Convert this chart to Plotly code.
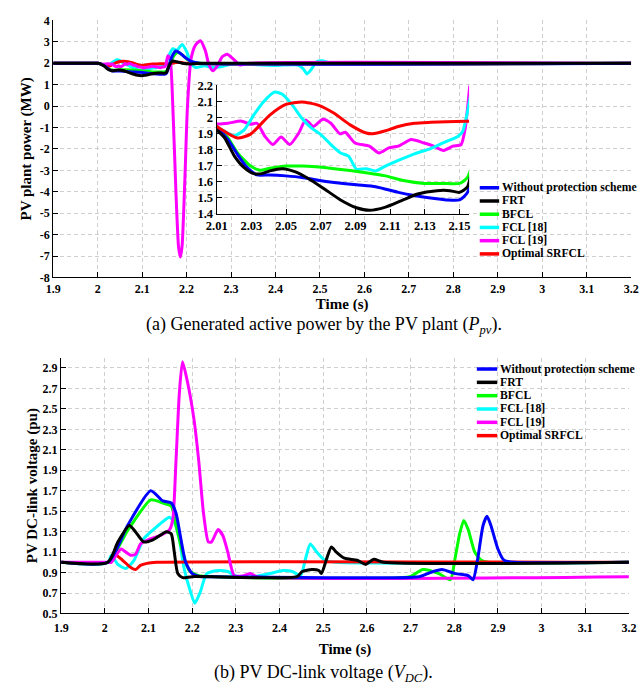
import plotly.graph_objects as go

# ---------------------------------------------------------------------------
# Series definitions
# ---------------------------------------------------------------------------
names = ["Without protection scheme", "FRT", "BFCL", "FCL [18]", "FCL [19]", "Optimal SRFCL"]
colors = ["#0000ff", "#000000", "#00ff00", "#00ffff", "#ff00ff", "#ff0000"]

# --- PV plant active power (MW) -------------------------------------------
t_p_wo = [1.9, 2.0, 2.004, 2.01, 2.0165, 2.022, 2.0276, 2.0332, 2.0406, 2.0499, 2.0591, 2.0684,
          2.0777, 2.0906, 2.1017, 2.1147, 2.124, 2.1333, 2.1425, 2.15, 2.1546, 2.16, 2.168,
          2.176, 2.185, 2.198, 2.212, 2.23, 3.2]
p_wo = [2.0, 2.0, 1.99, 1.937, 1.862, 1.769, 1.687, 1.642, 1.642, 1.636, 1.626, 1.609,
        1.595, 1.580, 1.568, 1.533, 1.513, 1.498, 1.486, 1.486, 1.533, 1.85, 2.35,
        2.57, 2.48, 2.25, 2.07, 2.0, 2.0]

t_p_frt = [1.9, 2.0, 2.004, 2.01, 2.0146, 2.0202, 2.0258, 2.0313, 2.036, 2.0406, 2.048, 2.0554,
           2.0628, 2.0721, 2.0814, 2.0906, 2.098, 2.1073, 2.1166, 2.1258, 2.137, 2.1444, 2.15,
           2.1546, 2.16, 2.168, 2.178, 2.19, 2.21, 2.24, 3.2]
p_frt = [2.0, 2.0, 1.99, 1.923, 1.872, 1.759, 1.687, 1.650, 1.650, 1.667, 1.681, 1.661,
         1.620, 1.554, 1.486, 1.437, 1.421, 1.441, 1.482, 1.523, 1.544, 1.544, 1.533,
         1.568, 1.85, 2.1, 2.07, 2.0, 1.97, 2.0, 2.0]

t_p_bfcl = [1.9, 2.0, 2.004, 2.01, 2.0165, 2.022, 2.0295, 2.035, 2.0406, 2.0499, 2.0591, 2.0777,
            2.0962, 2.1073, 2.1184, 2.1296, 2.1407, 2.15, 2.1546, 2.162, 2.17, 2.179, 2.19,
            2.2, 2.215, 2.23, 3.2]
p_bfcl = [2.0, 2.0, 1.99, 1.944, 1.872, 1.779, 1.697, 1.671, 1.683, 1.697, 1.697, 1.681,
          1.656, 1.636, 1.605, 1.589, 1.589, 1.589, 1.626, 1.9, 2.3, 2.5, 2.4,
          2.2, 2.05, 2.0, 2.0]

t_p_fcl18 = [1.9, 2.0, 2.004, 2.01, 2.0146, 2.0202, 2.0258, 2.0313, 2.0369, 2.0434, 2.048, 2.0536,
             2.0591, 2.0647, 2.0702, 2.0758, 2.0814, 2.086, 2.0906, 2.0962, 2.1017, 2.1073,
             2.1147, 2.124, 2.1333, 2.1425, 2.149, 2.1518, 2.1546, 2.16, 2.169, 2.178, 2.19,
             2.2, 2.21, 2.22, 2.24, 2.26, 2.28, 2.3, 2.32, 2.36, 2.4, 2.45, 2.462, 2.471,
             2.48, 2.493, 2.505, 2.52, 2.55, 3.2]
p_fcl18 = [2.0, 2.0, 1.99, 1.944, 1.913, 1.886, 1.923, 2.015, 2.097, 2.159, 2.143, 2.077,
           1.995, 1.933, 1.892, 1.831, 1.779, 1.759, 1.677, 1.681, 1.667, 1.697,
           1.732, 1.773, 1.806, 1.851, 1.882, 1.913, 2.036, 2.35, 2.68, 2.6, 2.88,
           2.55, 2.0, 1.8, 1.88, 1.8, 1.85, 1.95, 2.0, 1.93, 1.9, 1.92, 1.75, 1.5,
           1.7, 2.08, 2.12, 2.03, 2.0, 2.0]

t_p_fcl19 = [1.9, 2.0, 2.004, 2.01, 2.0165, 2.0239, 2.0295, 2.0332, 2.0378, 2.0424, 2.0471, 2.0521,
             2.0573, 2.0613, 2.0656, 2.0712, 2.0758, 2.081, 2.0841, 2.0897, 2.098, 2.1036,
             2.1092, 2.1147, 2.1221, 2.1296, 2.1351, 2.1407, 2.1462, 2.1509, 2.1533, 2.1546,
             2.158, 2.163, 2.169, 2.176, 2.182, 2.186, 2.19, 2.196, 2.202, 2.21, 2.22, 2.231,
             2.242, 2.25, 2.259, 2.27, 2.28, 2.291, 2.305, 2.32, 2.34, 3.2]
p_fcl19 = [2.0, 2.0, 1.99, 1.96, 1.964, 1.978, 1.958, 1.964, 1.882, 1.831, 1.878, 1.831,
           1.903, 1.985, 1.944, 1.989, 1.964, 1.898, 1.908, 1.841, 1.821, 1.779,
           1.810, 1.821, 1.862, 1.841, 1.821, 1.794, 1.821, 1.831, 1.933, 2.056,
           2.35, 2.2, 0.0, -4.0, -6.6, -7.05, -6.5, -3.5, 0.0, 2.2, 2.85, 3.05,
           2.6, 1.95, 1.65, 1.9, 2.3, 2.42, 2.2, 1.92, 2.0, 2.0]

t_p_srfcl = [1.9, 2.0, 2.004, 2.01, 2.022, 2.0295, 2.0406, 2.0499, 2.0591, 2.0684, 2.0777, 2.0869,
             2.0962, 2.0999, 2.1073, 2.1147, 2.124, 2.1333, 2.1425, 2.1537, 2.165, 2.175,
             2.185, 2.2, 3.2]
p_srfcl = [2.0, 2.0, 1.99, 1.944, 1.872, 1.896, 2.015, 2.081, 2.097, 2.077, 2.026, 1.954,
           1.903, 1.898, 1.917, 1.944, 1.964, 1.970, 1.974, 1.976, 1.98, 2.03,
           2.05, 2.0, 2.0]

# --- PV DC-link voltage (pu) ------------------------------------------------
t_v_wo = [1.9, 2.007, 2.052, 2.105, 2.133, 2.152, 2.163, 2.174, 2.185, 2.2, 2.222, 2.25, 2.72,
          2.745, 2.772, 2.802, 2.832, 2.843, 2.854, 2.866, 2.875, 2.884, 2.9, 2.914, 2.937, 3.2]
v_wo = [1.0, 1.0, 1.36, 1.70, 1.60, 1.58, 1.48, 1.23, 1.0, 0.89, 0.86, 0.86, 0.86,
        0.9, 0.93, 0.89, 0.87, 0.83, 1.04, 1.36, 1.45, 1.36, 1.13, 1.02, 1.0, 1.0]

t_v_frt = [1.9, 2.007, 2.03, 2.056, 2.07, 2.089, 2.11, 2.141, 2.152, 2.159, 2.167, 2.178, 2.2,
           2.44, 2.452, 2.474, 2.49, 2.496, 2.5075, 2.5187, 2.53, 2.5485, 2.578, 2.597,
           2.616, 2.638, 3.2]
v_frt = [1.0, 1.0, 1.2, 1.36, 1.3, 1.20, 1.22, 1.30, 1.28, 1.1, 0.89, 0.85, 0.86,
         0.86, 0.91, 0.93, 0.92, 0.89, 1.03, 1.15, 1.1, 1.04, 1.02, 0.98,
         1.03, 1.0, 1.0]

t_v_bfcl = [1.9, 2.007, 2.052, 2.105, 2.133, 2.152, 2.163, 2.178, 2.193, 2.215, 2.25, 2.698,
            2.728, 2.765, 2.791, 2.802, 2.813, 2.822, 2.832, 2.847, 2.862, 2.877, 3.2]
v_bfcl = [1.0, 1.0, 1.31, 1.61, 1.58, 1.55, 1.36, 1.1, 0.92, 0.87, 0.86, 0.86,
          0.93, 0.89, 0.83, 1.04, 1.29, 1.41, 1.32, 1.1, 1.02, 1.0, 1.0]

t_v_fcl18 = [1.9, 2.007, 2.0148, 2.0296, 2.0481, 2.0667, 2.0889, 2.1111, 2.1333, 2.1481, 2.1593,
             2.1704, 2.1815, 2.1963, 2.2059, 2.2185, 2.2333, 2.2593, 2.2815, 2.3037, 2.3407,
             2.3778, 2.4074, 2.4296, 2.4481, 2.4593, 2.4704, 2.4852, 2.5037, 2.53, 3.2]
v_fcl18 = [1.0, 1.0, 1.07, 0.98, 0.94, 1.02, 1.23, 1.32, 1.40, 1.44, 1.39,
           1.23, 0.94, 0.71, 0.60, 0.71, 0.89, 0.92, 0.91, 0.86, 0.86,
           0.89, 0.92, 0.91, 0.87, 1.03, 1.18, 1.10, 1.02, 1.0, 1.0]

t_v_fcl19 = [1.9, 2.007, 2.0148, 2.0259, 2.037, 2.0481, 2.0593, 2.0704, 2.0815, 2.1037, 2.1259,
             2.1481, 2.1556, 2.163, 2.1704, 2.1778, 2.1889, 2.2037, 2.2148, 2.2259, 2.237,
             2.2444, 2.2593, 2.2704, 2.2815, 2.2963, 2.3185, 2.3333, 2.3481, 3.2]
v_fcl19 = [1.0, 1.0, 1.0, 1.07, 1.13, 1.10, 1.07, 1.08, 1.18, 1.23, 1.26,
           1.32, 1.42, 2.0, 2.64, 2.96, 2.77, 2.41, 2.0, 1.48, 1.2,
           1.2, 1.32, 1.26, 1.1, 0.87, 0.87, 0.89, 0.86, 0.86]

t_v_srfcl = [1.9, 2.007, 2.0222, 2.0407, 2.0593, 2.0704, 2.0815, 2.0963, 2.1185, 3.2]
v_srfcl = [1.0, 1.0, 1.08, 1.02, 0.95, 0.93, 0.97, 0.99, 1.0, 1.0]

# --- Tick labels ------------------------------------------------------------
time_ticks = [1.9, 2.0, 2.1, 2.2, 2.3, 2.4, 2.5, 2.6, 2.7, 2.8, 2.9, 3.0, 3.1, 3.2]
time_labels = ["1.9", "2", "2.1", "2.2", "2.3", "2.4", "2.5", "2.6", "2.7", "2.8", "2.9", "3", "3.1", "3.2"]
power_ticks = [4, 3, 2, 1, 0, -1, -2, -3, -4, -5, -6, -7, -8]
power_labels = ["4", "3", "2", "1", "0", "-1", "-2", "-3", "-4", "-5", "-6", "-7", "-8"]
volt_ticks = [0.5, 0.7, 0.9, 1.1, 1.3, 1.5, 1.7, 1.9, 2.1, 2.3, 2.5, 2.7, 2.9]
volt_labels = ["0.5", "0.7", "0.9", "1.1", "1.3", "1.5", "1.7", "1.9", "2.1", "2.3", "2.5", "2.7", "2.9"]
zoom_t_ticks = [2.01, 2.03, 2.05, 2.07, 2.09, 2.11, 2.13, 2.15]
zoom_t_labels = ["2.01", "2.03", "2.05", "2.07", "2.09", "2.11", "2.13", "2.15"]
zoom_p_ticks = [1.4, 1.5, 1.6, 1.7, 1.8, 1.9, 2.0, 2.1, 2.2]
zoom_p_labels = ["1.4", "1.5", "1.6", "1.7", "1.8", "1.9", "2", "2.1", "2.2"]

power_series = [(t_p_wo, p_wo), (t_p_frt, p_frt), (t_p_bfcl, p_bfcl),
                (t_p_fcl18, p_fcl18), (t_p_fcl19, p_fcl19), (t_p_srfcl, p_srfcl)]
volt_series = [(t_v_wo, v_wo), (t_v_frt, v_frt), (t_v_bfcl, v_bfcl),
               (t_v_fcl18, v_fcl18), (t_v_fcl19, v_fcl19), (t_v_srfcl, v_srfcl)]

# ---------------------------------------------------------------------------
# Figure
# ---------------------------------------------------------------------------
W, H = 644, 692
FONT = "Liberation Serif, Times New Roman, serif"


def px_x(p):
    return p / W


def px_y(p):
    return 1 - p / H


fig = go.Figure()

# drawing order (bottom -> top) for the full-range panels
main_order = [3, 2, 5, 4, 0, 1]
# drawing order for the zoomed panel
zoom_order = [4, 3, 2, 0, 1, 5]

for i in main_order:
    t, v = power_series[i]
    fig.add_trace(go.Scatter(x=t, y=v, mode="lines", name=names[i], showlegend=False,
                             line=dict(color=colors[i], width=3, shape="spline", smoothing=0.6),
                             xaxis="x", yaxis="y"))
for i in main_order:
    t, v = volt_series[i]
    fig.add_trace(go.Scatter(x=t, y=v, mode="lines", name=names[i], showlegend=False,
                             line=dict(color=colors[i], width=3, shape="spline", smoothing=0.6),
                             xaxis="x2", yaxis="y2"))
for i in zoom_order:
    t, v = power_series[i]
    fig.add_trace(go.Scatter(x=t, y=v, mode="lines", name=names[i], showlegend=False,
                             line=dict(color=colors[i], width=3, shape="spline", smoothing=0.6),
                             xaxis="x3", yaxis="y3"))

tick_font = dict(family=FONT, size=12, color="black", weight="bold")
grid = dict(showgrid=True, gridcolor="#cfcfcf", gridwidth=1, griddash="4px,3px",
            zeroline=False, showline=True, linecolor="black", linewidth=1.3,
            ticks="inside", ticklen=5, tickwidth=1, tickcolor="black", mirror=False)
title_font = dict(family=FONT, size=15, color="black", weight="bold")

fig.update_layout(
    width=W, height=H, autosize=False,
    margin=dict(l=0, r=0, t=0, b=0),
    paper_bgcolor="white", plot_bgcolor="white",
    showlegend=False,
    xaxis=dict(domain=[px_x(43.5), px_x(639)], range=[1.9, 3.2], anchor="y",
               tickvals=time_ticks, ticktext=time_labels, tickfont=tick_font,
               title=dict(text="Time (s)", font=title_font, standoff=0), **grid),
    yaxis=dict(domain=[px_y(276), px_y(13.7)], range=[-8, 4], anchor="x",
               tickvals=power_ticks, ticktext=power_labels, tickfont=tick_font,
               title=dict(text="PV plant power (MW)", font=title_font, standoff=4), **grid),
    xaxis2=dict(domain=[px_x(51.7), px_x(636.7)], range=[1.9, 3.2], anchor="y2",
                tickvals=time_ticks, ticktext=time_labels, tickfont=tick_font,
                ticklabelstandoff=3,
                title=dict(text="Time (s)", font=title_font, standoff=9), **grid),
    yaxis2=dict(domain=[px_y(619), px_y(358)], range=[0.5, 3.0], anchor="x2",
                tickvals=volt_ticks, ticktext=volt_labels, tickfont=tick_font,
                title=dict(text="PV DC-link voltage (pu)", font=title_font, standoff=1), **grid),
    xaxis3=dict(domain=[px_x(212), px_x(472)], range=[2.01, 2.1555], anchor="y3",
                tickvals=zoom_t_ticks, ticktext=zoom_t_labels,
                tickfont=dict(family=FONT, size=12.5, color="black", weight="bold"), **grid),
    yaxis3=dict(domain=[px_y(211), px_y(80)], range=[1.4, 2.2], anchor="x3",
                tickvals=zoom_p_ticks, ticktext=zoom_p_labels,
                tickfont=dict(family=FONT, size=12.5, color="black", weight="bold"), **grid),
)

# legend keys for both panels
legend_font = dict(family=FONT, size=11.7, color="black", weight="bold")
shapes = []
annotations = []
for x0, x1, y0, dy in [(483, 503, 184.5, 13.5), (480, 501, 369.5, 13.6)]:
    for i, name in enumerate(names):
        yy = px_y(y0 + dy * i)
        shapes.append(dict(type="line", xref="paper", yref="paper",
                           x0=px_x(x0), x1=px_x(x1), y0=yy, y1=yy,
                           line=dict(color=colors[i], width=3.5)))
        annotations.append(dict(text=name, xref="paper", yref="paper", x=px_x(x1 + 1), y=yy,
                                xanchor="left", yanchor="middle", showarrow=False,
                                font=legend_font))

caption_font = dict(family=FONT, size=18, color="black")
annotations.append(dict(text="(a) Generated active power by the PV plant (<i>P</i><sub><i>pv</i></sub>).",
                        xref="paper", yref="paper", x=0.5, y=px_y(325), xanchor="center",
                        yanchor="middle", showarrow=False, font=caption_font))
annotations.append(dict(text="(b) PV DC-link voltage (<i>V</i><sub><i>DC</i></sub>).",
                        xref="paper", yref="paper", x=0.5, y=px_y(680), xanchor="center",
                        yanchor="middle", showarrow=False, font=caption_font))

fig.update_layout(shapes=shapes, annotations=annotations)

fig.write_html("out.html")
